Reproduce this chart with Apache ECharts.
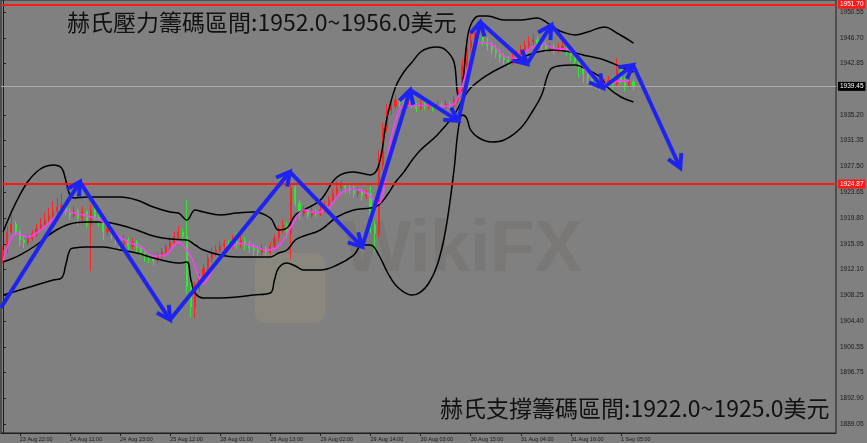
<!DOCTYPE html>
<html><head><meta charset="utf-8">
<script src="https://cdn.jsdelivr.net/npm/echarts@6/dist/echarts.min.js"></script>
<style>html,body{margin:0;padding:0;background:#808080}#c{width:867px;height:443px}</style>
</head><body><div id="c"></div>
<script>
// ---------- DATA ----------
const tickLabels = ['23 Aug 22:00','24 Aug 11:00','24 Aug 23:00','25 Aug 12:00','28 Aug 01:00','28 Aug 13:00','29 Aug 02:00','29 Aug 14:00','30 Aug 03:00','30 Aug 15:00','31 Aug 04:00','31 Aug 16:00','1 Sep 05:00'];
const firstTickBar = 4, barsPerTick = 12, totalSlots = 200;
const yTicks = [1889.05,1892.90,1896.75,1900.55,1904.40,1908.25,1912.10,1915.95,1919.80,1923.65,1927.50,1931.35,1935.20,1942.85,1946.70,1950.55];
// [open, close, low, high]
const ohlc = [
[1913.5,1915.0,1913.0,1915.6],[1915.0,1917.7,1914.6,1918.5],[1917.7,1918.9,1917.3,1920.3],[1918.9,1917.7,1917.2,1919.4],
[1917.7,1916.5,1915.6,1918.0],[1916.5,1916.1,1915.3,1917.0],[1916.1,1916.8,1915.8,1917.3],[1916.8,1917.4,1916.4,1918.0],
[1917.4,1918.2,1917.0,1918.9],[1918.2,1918.9,1917.8,1919.8],[1918.9,1919.5,1918.5,1920.6],[1919.5,1920.1,1919.0,1921.3],
[1920.1,1920.8,1919.7,1922.3],[1920.8,1921.4,1920.3,1922.8],[1921.4,1921.7,1920.9,1923.4],[1921.7,1920.7,1920.2,1922.2],
[1920.7,1920.2,1919.5,1921.3],[1920.2,1920.8,1919.8,1921.6],[1920.8,1919.8,1918.6,1921.2],[1919.8,1920.7,1919.3,1921.5],
[1920.7,1918.8,1918.3,1921.0],[1918.8,1921.0,1911.9,1921.8],[1921.0,1919.8,1919.2,1922.0],[1919.8,1919.2,1918.5,1920.4],
[1919.2,1917.7,1916.5,1919.6],[1917.7,1918.3,1917.2,1919.0],[1918.3,1917.3,1916.6,1918.8],[1917.3,1916.5,1915.8,1917.7],
[1916.5,1915.8,1914.9,1916.9],[1915.8,1916.5,1915.3,1917.2],[1916.5,1915.6,1915.0,1916.9],[1915.6,1916.2,1915.1,1916.8],
[1916.2,1915.3,1914.6,1916.5],[1915.3,1914.7,1914.0,1915.8],[1914.7,1914.1,1913.3,1915.1],[1914.1,1913.8,1913.0,1914.5],
[1913.8,1913.4,1912.7,1914.2],[1913.4,1914.1,1913.0,1914.6],[1914.1,1914.7,1913.8,1915.3],[1914.7,1915.5,1914.3,1916.0],
[1915.5,1916.2,1915.1,1917.0],[1916.2,1917.0,1915.9,1917.8],[1917.0,1917.7,1916.5,1918.6],[1917.7,1917.1,1916.4,1918.2],
[1917.1,1909.5,1908.5,1922.5],[1909.5,1906.5,1905.0,1910.2],[1906.5,1909.5,1904.9,1910.3],[1909.5,1910.8,1908.8,1911.5],
[1910.8,1912.3,1910.2,1912.9],[1912.3,1913.8,1911.8,1914.4],[1913.8,1914.7,1913.2,1915.4],[1914.7,1915.0,1914.1,1915.8],
[1915.0,1915.6,1914.6,1916.3],[1915.6,1915.9,1915.0,1916.6],[1915.9,1915.6,1914.9,1916.5],[1915.6,1916.2,1915.2,1917.3],
[1916.2,1915.9,1915.3,1917.6],[1915.9,1916.4,1915.4,1917.8],[1916.4,1915.8,1915.0,1917.0],[1915.8,1915.3,1914.6,1916.4],
[1915.3,1915.0,1914.2,1915.9],[1915.0,1914.7,1914.0,1915.6],[1914.7,1915.2,1914.2,1915.8],[1915.2,1914.7,1913.9,1915.6],
[1914.7,1915.6,1914.3,1916.2],[1915.6,1916.8,1915.2,1917.3],[1916.8,1918.0,1916.3,1918.6],[1918.0,1918.8,1917.5,1919.6],
[1918.8,1917.5,1916.8,1919.2],[1917.5,1924.3,1913.6,1925.0],[1924.3,1922.0,1921.5,1924.8],[1922.0,1920.4,1919.6,1922.5],
[1920.4,1920.9,1920.0,1921.6],[1920.9,1920.2,1919.7,1921.3],[1920.2,1920.7,1919.9,1921.3],[1920.7,1920.4,1919.9,1921.2],
[1920.4,1921.0,1920.1,1921.7],[1921.0,1921.6,1920.6,1922.3],[1921.6,1922.5,1921.2,1923.1],[1922.5,1923.5,1922.1,1924.2],
[1923.5,1924.3,1923.0,1925.2],[1924.3,1924.6,1923.8,1925.4],[1924.6,1924.3,1923.5,1925.1],[1924.3,1924.0,1923.3,1924.9],
[1924.0,1923.5,1922.8,1924.6],[1923.5,1923.7,1922.9,1924.4],[1923.7,1923.1,1922.4,1924.2],[1923.1,1923.4,1922.6,1924.0],
[1923.4,1918.8,1917.6,1924.6],[1918.8,1917.5,1914.8,1919.4],[1917.5,1927.7,1916.9,1929.9],[1927.7,1933.2,1927.0,1934.0],
[1933.2,1935.9,1932.6,1936.8],[1935.9,1936.5,1935.2,1937.3],[1936.5,1937.4,1936.0,1938.2],[1937.4,1937.0,1936.4,1937.9],
[1937.0,1936.5,1935.9,1937.4],[1936.5,1937.1,1936.1,1937.8],[1937.1,1936.7,1936.1,1937.5],[1936.7,1936.2,1935.6,1937.0],
[1936.2,1936.8,1935.9,1937.4],[1936.8,1936.4,1935.8,1937.2],[1936.4,1936.8,1936.0,1937.3],[1936.8,1936.2,1935.7,1937.1],
[1936.2,1936.7,1935.9,1937.2],[1936.7,1936.4,1935.8,1937.1],[1936.4,1936.8,1936.0,1937.3],[1936.8,1936.5,1935.9,1937.2],
[1936.5,1937.4,1936.2,1938.0],[1937.4,1939.0,1936.9,1939.9],[1939.0,1942.6,1938.6,1943.5],[1942.6,1945.2,1942.1,1946.0],
[1945.2,1946.4,1944.6,1947.3],[1946.4,1947.4,1945.9,1948.3],[1947.4,1947.0,1946.2,1948.0],[1947.0,1946.1,1945.5,1947.6],
[1946.1,1945.5,1944.8,1946.8],[1945.5,1944.9,1944.2,1946.1],[1944.9,1944.4,1943.7,1945.6],[1944.4,1943.7,1943.0,1945.0],
[1943.7,1943.4,1942.7,1944.4],[1943.4,1943.1,1942.4,1944.0],[1943.1,1943.7,1942.7,1944.3],[1943.7,1944.1,1943.3,1944.8],
[1944.1,1944.9,1943.7,1945.6],[1944.9,1945.5,1944.4,1946.3],[1945.5,1946.1,1945.0,1946.9],[1946.1,1946.4,1945.6,1947.3],
[1946.4,1945.8,1945.2,1947.0],[1945.8,1945.5,1944.8,1946.4],[1945.5,1945.0,1944.4,1946.0],[1945.0,1945.3,1944.6,1946.0],
[1945.3,1944.9,1944.2,1945.8],[1944.9,1945.2,1944.4,1945.9],[1945.2,1945.5,1944.6,1946.7],[1945.5,1944.6,1944.0,1946.0],
[1944.6,1944.0,1943.2,1945.0],[1944.0,1943.1,1942.3,1944.4],[1943.1,1942.2,1940.8,1943.6],[1942.2,1941.3,1940.0,1942.7],
[1941.3,1940.7,1939.8,1941.8],[1940.7,1940.1,1939.4,1941.2],[1940.1,1939.7,1939.0,1940.6],[1939.7,1939.5,1938.8,1940.3],
[1939.5,1939.9,1939.1,1940.6],[1939.9,1940.4,1939.5,1941.0],[1940.4,1939.8,1939.1,1940.9],[1939.8,1941.9,1939.4,1943.7],
[1941.9,1940.4,1939.8,1942.3],[1940.4,1939.5,1938.7,1940.9],[1939.5,1940.1,1939.0,1940.7],[1940.1,1939.45,1938.9,1940.5]
];
// Bollinger bands: [bar, price]
const upperBand = [[0,1917.71],[4,1923.23],[8,1926.67],[12,1927.71],[14,1927.26],[15,1925.47],[16,1923.23],[17,1922.78],[20,1922.93],[24,1922.93],[28,1922.93],[32,1922.48],[36,1921.44],[40,1920.69],[42,1920.54],[44,1919.50],[46,1920.99],[48,1920.69],[52,1920.25],[56,1920.54],[60,1920.69],[64,1919.80],[66,1918.01],[68,1918.31],[70,1920.25],[72,1920.99],[76,1922.48],[80,1925.92],[84,1926.67],[88,1926.22],[90,1927.71],[92,1934.87],[94,1939.35],[96,1941.59],[98,1943.09],[100,1944.58],[102,1945.17],[104,1945.32],[106,1944.88],[108,1943.09],[109,1938.16],[110,1939.65],[111,1945.62],[112,1948.61],[114,1949.95],[116,1949.95],[120,1949.35],[124,1949.35],[128,1949.65],[130,1949.06],[132,1948.16],[134,1947.56],[137,1947.12],[140,1947.56],[144,1948.31],[147,1947.41],[151,1945.92]];
const middleBand = [[0,1913.23],[4,1914.27],[8,1915.77],[12,1917.71],[16,1918.90],[20,1919.20],[24,1919.20],[28,1918.75],[32,1918.01],[36,1917.11],[40,1916.66],[44,1916.51],[46,1915.77],[48,1915.02],[52,1914.27],[56,1913.98],[60,1913.98],[64,1913.98],[66,1914.57],[68,1915.02],[70,1916.51],[72,1917.11],[76,1918.01],[80,1919.95],[84,1920.99],[88,1921.29],[90,1921.74],[92,1923.23],[94,1925.17],[96,1926.67],[98,1928.46],[100,1929.95],[104,1932.19],[108,1935.17],[110,1937.41],[112,1939.20],[116,1941.14],[120,1942.49],[124,1943.68],[128,1944.58],[132,1944.88],[136,1944.58],[140,1943.98],[144,1943.38],[148,1942.34],[151,1941.59]];
const lowerBand = [[0,1908.30],[4,1909.05],[8,1909.80],[12,1910.54],[14,1910.84],[15,1912.78],[16,1915.02],[17,1915.32],[20,1915.47],[24,1915.47],[28,1915.02],[32,1914.57],[36,1913.83],[40,1913.23],[42,1913.08],[44,1913.23],[45,1910.54],[46,1908.60],[48,1907.86],[52,1907.86],[56,1908.01],[60,1908.30],[64,1908.60],[65,1910.54],[66,1912.34],[68,1913.08],[70,1912.63],[72,1912.04],[76,1912.04],[80,1912.78],[84,1914.27],[86,1915.77],[88,1915.77],[90,1914.27],[92,1911.74],[94,1909.80],[96,1908.75],[98,1908.30],[100,1908.75],[102,1910.10],[104,1912.78],[106,1918.01],[108,1926.96],[109,1932.93],[110,1935.17],[111,1934.73],[112,1932.93],[114,1931.74],[117,1931.14],[120,1931.44],[124,1933.23],[127,1935.92],[129,1938.16],[131,1941.89],[133,1942.49],[137,1942.64],[140,1941.89],[143,1940.85],[145,1939.20],[148,1937.86],[151,1937.11]];
// magenta moving average
const maLine = [[0,1913.5],[3,1917.5],[6,1917.0],[9,1918.0],[12,1919.6],[15,1920.8],[18,1920.4],[21,1920.0],[24,1919.2],[27,1917.4],[30,1916.2],[33,1915.5],[36,1914.1],[39,1914.3],[42,1916.2],[45,1914.0],[48,1910.0],[51,1913.0],[54,1915.2],[57,1916.0],[60,1915.6],[63,1915.0],[66,1915.6],[69,1918.5],[72,1921.0],[75,1920.6],[78,1921.4],[81,1923.6],[84,1924.1],[87,1923.5],[90,1922.0],[93,1932.0],[96,1936.6],[99,1936.6],[102,1936.6],[105,1936.5],[108,1936.8],[111,1941.5],[114,1946.0],[117,1945.7],[120,1944.0],[123,1943.6],[126,1945.0],[129,1945.8],[132,1945.1],[135,1945.0],[138,1943.3],[141,1940.8],[144,1939.8],[147,1940.2],[150,1940.3]];
// blue arrow path vertices: bar position and price
const arrowBars   = [-0.5, 18.4, 40.0, 68.7, 86.0, 97.5, 109.0, 114.3, 125.5, 131.3, 143.7, 150.9, 162.2];
const arrowPrices = [1906.4, 1925.2, 1904.6, 1926.7, 1915.5, 1938.9, 1934.3, 1949.06, 1942.79, 1948.6, 1939.2, 1942.64, 1927.26];
const resistanceLine = 1951.70, supportLine = 1924.87, lastPrice = 1939.45;
const yMin = 1887.71, yMax = 1952.34;
const titleTop = '赫氏壓力籌碼區間:1952.0~1956.0美元';
const titleBottom = '赫氏支撐籌碼區間:1922.0~1925.0美元';

// ---------- BUILD ----------
const categories = [];
for (let i = 0; i < totalSlots; i++) categories.push('bar' + i);
const labelAt = {};
tickLabels.forEach((t, k) => { labelAt[firstTickBar + k * barsPerTick] = t; });
const isTick = (idx) => labelAt[idx] !== undefined;
const segments = [];
for (let k = 0; k < arrowBars.length - 1; k++) segments.push([arrowBars[k], arrowPrices[k], arrowBars[k+1], arrowPrices[k+1]]);

const chart = echarts.init(document.getElementById('c'), null, {renderer: 'canvas'});
const UP = '#ff2424', DOWN = '#2cea2c', BLUE = '#1f23f0';
const bandStyle = {color: '#000', width: 1.5};

function boxLabel(txt, bg, fg) {
  return {show: true, position: 'end', distance: 2, formatter: txt, backgroundColor: bg, color: fg,
          fontSize: 6.5, fontFamily: 'Liberation Sans', padding: [1, 2, 1, 2]};
}

chart.setOption({
  animation: false,
  backgroundColor: '#808080',
  grid: {left: 1, right: 31, top: 0, bottom: 10, show: true, borderColor: '#1e1e1e', borderWidth: 1},
  xAxis: [
    {type: 'category', data: categories, boundaryGap: true, gridIndex: 0,
     axisLine: {show: true, lineStyle: {color: '#1e1e1e'}},
     axisTick: {show: true, interval: (i) => isTick(i), alignWithLabel: true, length: 3, lineStyle: {color: '#1e1e1e'}},
     axisLabel: {interval: (i) => isTick(i), formatter: (v, i) => labelAt[i] || '', align: 'left', fontSize: 5.5,
                 color: '#1a1a1a', margin: 3, fontFamily: 'Liberation Sans'},
     splitLine: {show: false}},
    {type: 'value', min: -0.5, max: totalSlots - 0.5, show: false, gridIndex: 0}
  ],
  yAxis: {type: 'value', position: 'right', min: yMin, max: yMax, scale: true,
    axisLine: {show: true, lineStyle: {color: '#1e1e1e'}},
    axisTick: {show: true, customValues: yTicks, length: 3, lineStyle: {color: '#1e1e1e'}},
    axisLabel: {customValues: yTicks, formatter: (v) => v.toFixed(2), fontSize: 6.5, color: '#1a1a1a', margin: 4, fontFamily: 'Liberation Sans'},
    splitLine: {show: false}},
  series: [
    {type: 'candlestick', xAxisIndex: 0, data: ohlc, barWidth: 1.6,
     itemStyle: {color: UP, color0: DOWN, borderColor: UP, borderColor0: DOWN, borderWidth: 1},
     markLine: {silent: true, symbol: 'none', animation: false,
       data: [
         {yAxis: lastPrice, lineStyle: {color: '#a8a8a8', width: 1, type: 'solid'}, label: boxLabel(lastPrice.toFixed(2), '#000', '#fff')},
         {yAxis: supportLine, lineStyle: {color: '#ff1a1a', width: 2, type: 'solid'}, label: boxLabel(supportLine.toFixed(2), '#ff1a1a', '#fff')},
         {yAxis: resistanceLine, lineStyle: {color: '#ff1a1a', width: 2, type: 'solid'}, label: boxLabel(resistanceLine.toFixed(2), '#ff1a1a', '#fff')}
       ]}},
    {type: 'line', xAxisIndex: 1, data: upperBand, symbol: 'none', smooth: 0.4, lineStyle: bandStyle, z: 3},
    {type: 'line', xAxisIndex: 1, data: middleBand, symbol: 'none', smooth: 0.4, lineStyle: bandStyle, z: 3},
    {type: 'line', xAxisIndex: 1, data: lowerBand, symbol: 'none', smooth: 0.4, lineStyle: bandStyle, z: 3},
    {type: 'line', xAxisIndex: 1, data: maLine, symbol: 'none', smooth: 0.3, lineStyle: {color: '#ff3cff', width: 1.6}, z: 4},
    {type: 'custom', xAxisIndex: 1, data: segments, encode: {x: [0, 2], y: [1, 3]}, z: 10, clip: false,
     renderItem: function (params, api) {
       const a = api.coord([api.value(0), api.value(1)]);
       const b = api.coord([api.value(2), api.value(3)]);
       const ang = Math.atan2(b[1] - a[1], b[0] - a[0]);
       const L = 15, th = 0.5;
       const w1 = [b[0] - L * Math.cos(ang - th), b[1] - L * Math.sin(ang - th)];
       const w2 = [b[0] - L * Math.cos(ang + th), b[1] - L * Math.sin(ang + th)];
       const st = {stroke: BLUE, lineWidth: 4, fill: null, lineCap: 'butt', lineJoin: 'miter'};
       return {type: 'group', children: [
         {type: 'line', shape: {x1: a[0], y1: a[1], x2: b[0], y2: b[1]}, style: st},
         {type: 'polyline', shape: {points: [w1, b, w2]}, style: st}
       ]};
     }}
  ],
  graphic: [
    {type: 'group', left: 255, top: 215, z: 1, silent: true, children: [
      {type: 'rect', shape: {x: 0, y: 38, width: 70, height: 70, r: 10}, style: {fill: 'rgba(200,175,110,0.14)'}},
      {type: 'text', style: {x: 88, y: 0, text: 'WikiFX', font: 'bold 72px "Liberation Sans"', fill: 'rgba(95,85,70,0.18)'}}
    ]},
    {type: 'text', left: 67, top: 11, z: 20, style: {text: titleTop, font: '23px "Noto Sans CJK TC"', fill: '#111'}},
    {type: 'text', left: 440, top: 397, z: 20, style: {text: titleBottom, font: '23px "Noto Sans CJK TC"', fill: '#111'}}
  ]
});
</script></body></html>
